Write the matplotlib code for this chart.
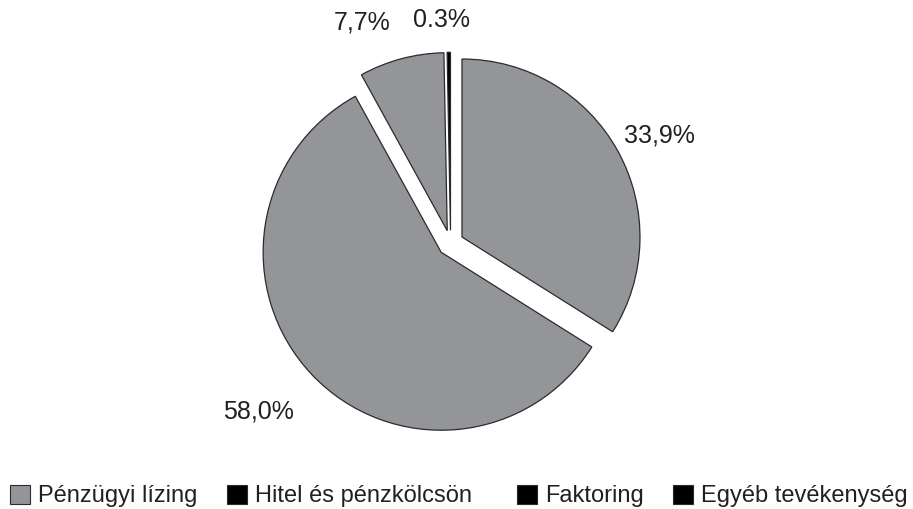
import matplotlib
matplotlib.use("Agg")
import matplotlib.pyplot as plt
from matplotlib.patches import Patch

plt.rcParams['font.family'] = ['Liberation Sans', 'DejaVu Sans']

# Data (clockwise from top)
values = [33.9, 58.0, 7.7, 0.3]
value_labels = ["33,9%", "58,0%", "7,7%", "0.3%"]
slice_colors = ["#939598", "#939598", "#939598", "#000000"]

legend_labels = ["Pénzügyi lízing", "Hitel és pénzkölcsön", "Faktoring", "Egyéb tevékenység"]
legend_colors = ["#939598", "#000000", "#000000", "#000000"]

W, H = 913, 509
fig = plt.figure(figsize=(W / 100, H / 100), dpi=100)
ax = fig.add_axes([0, 0, 1, 1])

cx, cy, R = 450.6, H - 243.3, 178
off = 13
ax.pie(values, colors=slice_colors, startangle=90, counterclock=False,
       explode=[off] * len(values), center=(cx, cy), radius=R,
       wedgeprops=dict(edgecolor="#2b2b2b", linewidth=0.9))
ax.set_xlim(0, W)
ax.set_ylim(0, H)
ax.set_aspect('auto')
ax.axis('off')

# label positions (pixel centres)
label_pos = [(659, 135), (258, 411), (362, 22), (441, 20)]
for txt, (px, py) in zip(value_labels, label_pos):
    ax.text(px, H - py, txt, ha='center', va='center', fontsize=18, color='#231f20')

# legend entries, one per position
leg_x = [10, 227, 517, 673]
for lab, col, x in zip(legend_labels, legend_colors, leg_x):
    h = Patch(facecolor=col, edgecolor='#2b2b2b', linewidth=0.8)
    lg = fig.legend([h], [lab], loc='center left', bbox_to_anchor=(x / W, 1 - 496 / H),
                    frameon=False, fontsize=17, handlelength=0.85, handleheight=0.85,
                    handletextpad=0.34, borderaxespad=0, borderpad=0)
    for t in lg.get_texts():
        t.set_color('#231f20')

fig.savefig("out.png", dpi=100)
